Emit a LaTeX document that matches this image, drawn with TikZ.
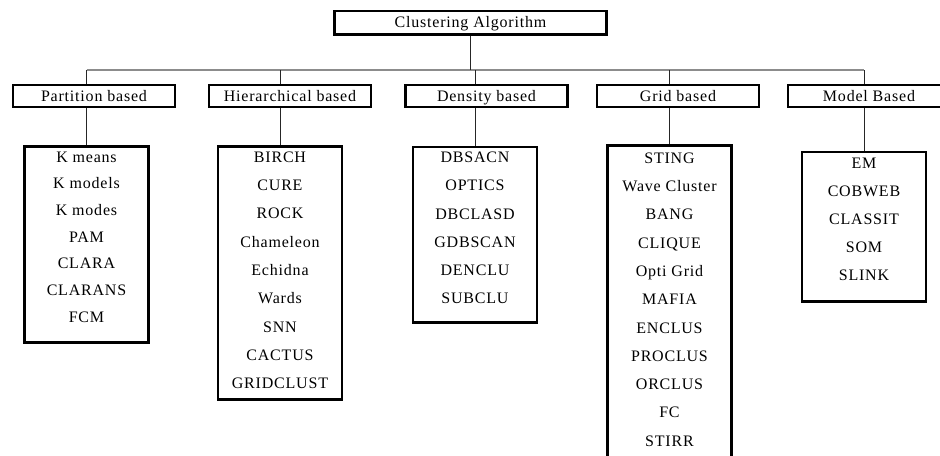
\documentclass[tikz,border=0pt]{standalone}
\usepackage{fontspec}
\setmainfont{Liberation Serif}
\newfontfamily\spacedfont[LetterSpace=5]{Liberation Serif}
\usepackage{tikz}
\usetikzlibrary{positioning}
\usetikzlibrary{calc}
\tikzstyle{every node}=[font=\fontsize{12}{14}\selectfont\spacedfont,inner sep=0pt]
\tikzstyle{every path}=[line cap=butt,line join=miter]
\tikzstyle{topbox}=[draw,line width=2pt,minimum width=204pt,minimum height=17.5pt,text height=8.5pt,text depth=0.7pt]
\tikzstyle{catbox}=[draw,line width=2pt,minimum width=121.5pt,minimum height=16.5pt,text height=8.5pt,text depth=0.7pt]
\tikzstyle{listbox}=[draw,line width=2pt,minimum width=93pt]
\tikzstyle{item}=[anchor=center,text height=8.5pt,text depth=0.7pt]
\tikzstyle{bus}=[draw=black!45,line width=0.9pt]
\tikzstyle{stub}=[draw=black!85,line width=0.75pt]

\begin{document}
\begin{tikzpicture}[x=0.75pt,y=-0.75pt]
\useasboundingbox (0,0) rectangle (940,455);

% root
\node[topbox] (algo) at (470.5,22.5) {Clustering Algorithm};

% families
\node[catbox] (part) at (94,96) {Partition based};
\node[catbox] (hier) at (290,96) {Hierarchical based};
\node[catbox] (dens) at (486.5,96) {Density based};
\node[catbox] (grid) at (678,96) {Grid based};
\node[catbox] (model) at (869,96) {Model Based};

% member lists
\node[listbox,minimum height=147pt] (partlist) at (86.5,244.5) {};
\node[listbox,minimum height=189.5pt] (hierlist) at (280,273) {};
\node[listbox,minimum height=131.5pt] (denslist) at (475,234.5) {};
\node[listbox,minimum height=248pt] (gridlist) at (669.5,311) {};
\node[listbox,minimum height=112pt] (modellist) at (864,226.5) {};

\foreach \name [count=\i from 0] in {K means,K models,K modes,PAM,CLARA,CLARANS,FCM}
  \node[item] (part\i) at (86.5,{157+26.67*\i}) {\name};
\foreach \name [count=\i from 0] in {BIRCH,CURE,ROCK,Chameleon,Echidna,Wards,SNN,CACTUS,GRIDCLUST}
  \node[item] (hier\i) at (280,{157+28.3*\i}) {\name};
\foreach \name [count=\i from 0] in {DBSACN,OPTICS,DBCLASD,GDBSCAN,DENCLU,SUBCLU}
  \node[item] (dens\i) at (475,{157.5+28.2*\i}) {\name};
\foreach \name [count=\i from 0] in {STING,Wave Cluster,BANG,CLIQUE,Opti Grid,MAFIA,ENCLUS,PROCLUS,ORCLUS,FC,STIRR}
  \node[item] (grid\i) at (669.5,{158+28.3*\i}) {\name};
\foreach \name [count=\i from 0] in {EM,COBWEB,CLASSIT,SOM,SLINK}
  \node[item] (model\i) at (864,{163+28*\i}) {\name};

% connectors
\coordinate (busL) at (86.5,70);
\coordinate (busR) at (864,70);
\draw[bus] (busL) -- (busR);
\draw[stub] (algo.south) -- (algo.south |- busL);
\foreach \fam in {part,hier,dens,grid,model}{
  \draw[stub] (\fam list.north |- busL) -- (\fam list.north |- \fam.north);
  \draw[stub] (\fam list.north |- \fam.south) -- (\fam list.north);
}
\end{tikzpicture}
\end{document}
